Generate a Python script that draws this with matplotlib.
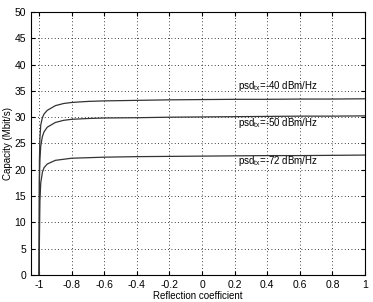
import numpy as np
import matplotlib.pyplot as plt

plt.rcParams['font.family'] = ['Liberation Sans', 'DejaVu Sans']

# reflection coefficient samples
refl = [-1, -0.998, -0.995, -0.99, -0.98, -0.97, -0.95, -0.9, -0.85, -0.8,
        -0.7, -0.6, -0.4, -0.2, 0, 0.2, 0.4, 0.6, 0.8, 1]

cap_40 = [0, 22, 26, 28.5, 29.9, 30.6, 31.3, 32.2, 32.6, 32.8,
          33.0, 33.1, 33.2, 33.3, 33.35, 33.4, 33.4, 33.45, 33.45, 33.5]
cap_50 = [0, 18, 22, 24.5, 26.3, 27.2, 28.1, 29.0, 29.4, 29.6,
          29.75, 29.85, 29.9, 30.0, 30.05, 30.1, 30.15, 30.2, 30.2, 30.25]
cap_72 = [0, 7, 14, 17.5, 19.5, 20.4, 21.1, 21.8, 22.0, 22.2,
          22.3, 22.4, 22.5, 22.55, 22.6, 22.65, 22.7, 22.7, 22.75, 22.8]

labels = ['psd$_{\\mathregular{tx}}$=-40 dBm/Hz',
          'psd$_{\\mathregular{tx}}$=-50 dBm/Hz',
          'psd$_{\\mathregular{tx}}$=-72 dBm/Hz']
label_y = [35.9, 28.9, 21.7]

fig = plt.figure(figsize=(3.73, 3.02), dpi=100)
ax = fig.add_axes([0.083, 0.0894, 0.8956, 0.8709])

for c in [cap_40, cap_50, cap_72]:
    ax.plot(refl, c, color='#333333', lw=0.9)

for lab, yy in zip(labels, label_y):
    ax.text(0.22, yy, lab, fontsize=7, va='center', ha='left')

ax.set_xlim(-1.05, 1)
ax.set_ylim(0, 50)
ax.set_xticks(np.arange(-1, 1.01, 0.2))
ax.set_xticklabels(['-1', '-0.8', '-0.6', '-0.4', '-0.2', '0', '0.2', '0.4', '0.6', '0.8', '1'])
ax.set_yticks(np.arange(0, 51, 5))
ax.grid(True, color='black', linestyle=(0, (1, 3)), linewidth=0.6)
ax.tick_params(direction='in', labelsize=7.5, length=3, top=True, right=True)
ax.set_xlabel('Reflection coefficient', fontsize=7, labelpad=1)
ax.set_ylabel('Capacity (Mbit/s)', fontsize=7, labelpad=1)

fig.savefig('out.png', dpi=100)
